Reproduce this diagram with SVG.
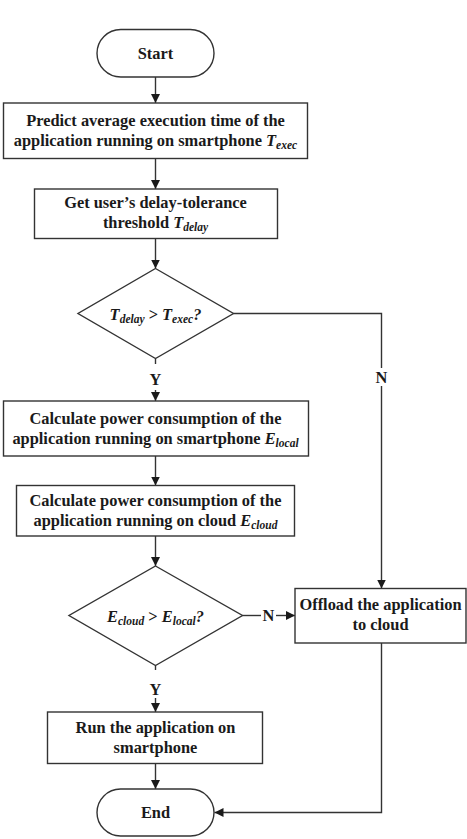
<svg xmlns="http://www.w3.org/2000/svg" width="467" height="839" viewBox="0 0 467 839">
  <defs>
    <marker id="arrow" markerUnits="userSpaceOnUse" markerWidth="10" markerHeight="10" refX="9" refY="4.5" orient="auto">
      <path d="M0,0 L9,4.5 L0,9 z" fill="#1a1a1a"/>
    </marker>
    <style>
      .shape { fill: #ffffff; stroke: #333333; stroke-width: 1.4; }
      .conn { fill: none; stroke: #333333; stroke-width: 1.4; }
      .label { font-family: "Liberation Serif", "Times New Roman", serif; font-weight: bold; font-size: 16.4px; fill: #1a1a1a; text-anchor: middle; }
      .it { font-style: italic; }
      .sub { font-style: italic; font-size: 11.5px; }
    </style>
  </defs>
  <rect width="467" height="839" fill="#ffffff"/>

  <!-- connectors -->
  <g id="connectors">
    <line class="conn" x1="155.5" y1="77" x2="155.5" y2="103" marker-end="url(#arrow)"/>
    <line class="conn" x1="155.5" y1="158.5" x2="155.5" y2="189" marker-end="url(#arrow)"/>
    <line class="conn" x1="155.5" y1="238.5" x2="155.5" y2="268.5" marker-end="url(#arrow)"/>
    <!-- decision 1: Y -->
    <line class="conn" x1="155.5" y1="358.5" x2="155.5" y2="364"/>
    <line class="conn" x1="155.5" y1="390" x2="155.5" y2="401" marker-end="url(#arrow)"/>
    <text class="label" x="155.5" y="385">Y</text>
    <!-- decision 1: N -->
    <polyline class="conn" points="233.5,313.5 381.5,313.5 381.5,368"/>
    <line class="conn" x1="381.5" y1="386" x2="381.5" y2="588.5" marker-end="url(#arrow)"/>
    <text class="label" x="381.5" y="382.5">N</text>
    <line class="conn" x1="155.5" y1="456" x2="155.5" y2="485.5" marker-end="url(#arrow)"/>
    <line class="conn" x1="155.5" y1="536" x2="155.5" y2="566" marker-end="url(#arrow)"/>
    <!-- decision 2: N -->
    <line class="conn" x1="242.5" y1="615.5" x2="261" y2="615.5"/>
    <line class="conn" x1="276" y1="615.5" x2="295" y2="615.5" marker-end="url(#arrow)"/>
    <text class="label" x="268.5" y="621">N</text>
    <!-- decision 2: Y -->
    <line class="conn" x1="155.5" y1="665.5" x2="155.5" y2="670"/>
    <line class="conn" x1="155.5" y1="698" x2="155.5" y2="712" marker-end="url(#arrow)"/>
    <text class="label" x="155.5" y="695">Y</text>
    <line class="conn" x1="155.5" y1="763.5" x2="155.5" y2="789" marker-end="url(#arrow)"/>
    <!-- offload to end -->
    <polyline class="conn" points="381.5,643 381.5,812.5 214.5,812.5" marker-end="url(#arrow)"/>
  </g>

  <g id="start">
    <rect class="shape" x="97" y="29.5" width="117" height="47.5" rx="23.75"/>
    <text class="label" x="155.5" y="59">Start</text>
  </g>

  <g id="predict">
    <rect class="shape" x="3.5" y="103" width="304" height="55.5"/>
    <text class="label" x="155.5" y="126">Predict average execution time of the</text>
    <text class="label" x="155.5" y="145.5">application running on smartphone <tspan class="it">T</tspan><tspan class="sub" dy="3">exec</tspan></text>
  </g>

  <g id="threshold">
    <rect class="shape" x="34.5" y="189" width="243" height="49.5"/>
    <text class="label" x="155.5" y="208">Get user’s delay-tolerance</text>
    <text class="label" x="155.5" y="228">threshold <tspan class="it">T</tspan><tspan class="sub" dy="3">delay</tspan></text>
  </g>

  <g id="decision-delay">
    <polygon class="shape" points="155.5,268.5 233.5,313.5 155.5,358.5 78,313.5"/>
    <text class="label" x="155.5" y="319.5"><tspan class="it">T</tspan><tspan class="sub" dy="3">delay</tspan><tspan dy="-3"> &gt; </tspan><tspan class="it">T</tspan><tspan class="sub" dy="3">exec</tspan><tspan class="it" dy="-3">?</tspan></text>
  </g>

  <g id="power-local">
    <rect class="shape" x="3.5" y="401" width="305" height="55"/>
    <text class="label" x="155.5" y="424">Calculate power consumption of the</text>
    <text class="label" x="155.5" y="443.5">application running on smartphone <tspan class="it">E</tspan><tspan class="sub" dy="3">local</tspan></text>
  </g>

  <g id="power-cloud">
    <rect class="shape" x="16.5" y="485.5" width="278" height="50.5"/>
    <text class="label" x="155.5" y="506">Calculate power consumption of the</text>
    <text class="label" x="155.5" y="526">application running on cloud <tspan class="it">E</tspan><tspan class="sub" dy="3">cloud</tspan></text>
  </g>

  <g id="decision-power">
    <polygon class="shape" points="155.5,566 242.5,615.5 155.5,665.5 69,615.5"/>
    <text class="label" x="155.5" y="621.5"><tspan class="it">E</tspan><tspan class="sub" dy="3">cloud</tspan><tspan dy="-3"> &gt; </tspan><tspan class="it">E</tspan><tspan class="sub" dy="3">local</tspan><tspan class="it" dy="-3">?</tspan></text>
  </g>

  <g id="offload">
    <rect class="shape" x="295" y="588.5" width="171" height="54.5"/>
    <text class="label" x="380.5" y="610">Offload the application</text>
    <text class="label" x="380.5" y="630">to cloud</text>
  </g>

  <g id="run-local">
    <rect class="shape" x="47.5" y="712" width="215" height="51.5"/>
    <text class="label" x="155.5" y="733">Run the application on</text>
    <text class="label" x="155.5" y="752.5">smartphone</text>
  </g>

  <g id="end">
    <rect class="shape" x="97" y="789" width="117" height="47" rx="23.5"/>
    <text class="label" x="155.5" y="818">End</text>
  </g>
</svg>
